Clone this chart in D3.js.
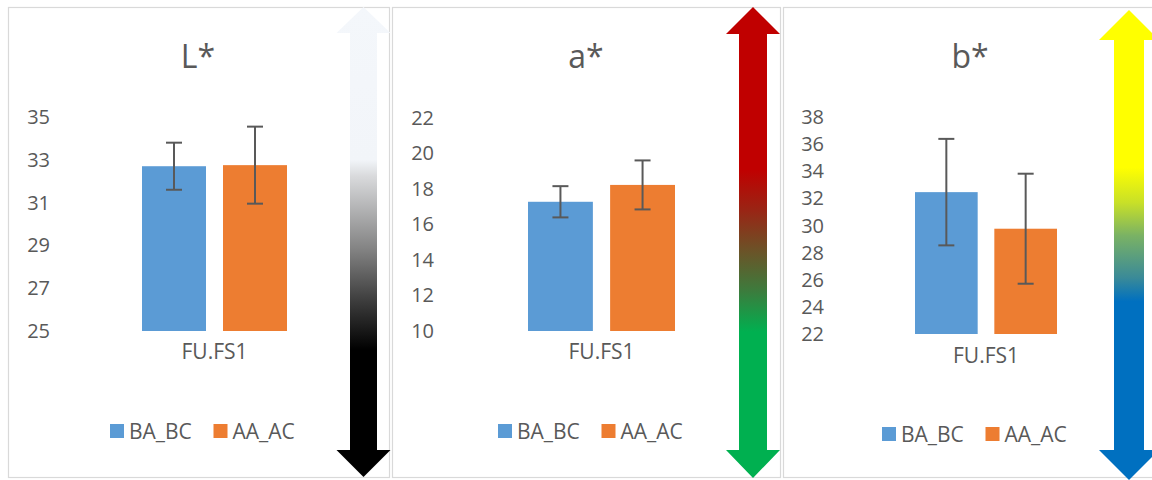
<!DOCTYPE html>
<html>
<head>
<meta charset="utf-8">
<title></title>
<style>
  body { margin: 0; background: #fff; }
  svg text { font-family: "Open Sans", sans-serif; fill: #595959; }
</style>
</head>
<body>
<script src="https://cdnjs.cloudflare.com/ajax/libs/d3/7.8.5/d3.min.js"></script>
<script>
// data
var categories = ["FU.FS1"];
var seriesNames = ["BA_BC", "AA_AC"];
var seriesColors = ["#5b9bd5", "#ed7d31"];
var titles = ["L*", "a*", "b*"];

var lMeans = [32.7, 32.75],  lErrors = [1.1, 1.8];
var aMeans = [17.28, 18.23], aErrors = [0.88, 1.38];
var bMeans = [32.47, 29.77], bErrors = [3.93, 4.06];

var lTicks = [25, 27, 29, 31, 33, 35];
var aTicks = [10, 12, 14, 16, 18, 20, 22];
var bTicks = [22, 24, 26, 28, 30, 32, 34, 36, 38];

// layout of each panel
var panels = [
  {title: titles[0], means: lMeans, errs: lErrors, ticks: lTicks,
   box: [8.5, 389.5], yRange: [331, 117], group: [142, 287], tickX: 50, titleX: 198,
   labelY: 359, legendX: 110, legendY: 424,
   arrow: {cx: 363.5, shaft: 13.5, head: 27, top: 7, topBase: 33, botBase: 450, bot: 477},
   stops: [[0, "#f4f7fb"], [0.325, "#f2f5f9"], [0.36, "#d9dadc"], [0.52, "#808080"], [0.63, "#3a3a3a"], [0.73, "#000"], [1, "#000"]]},
  {title: titles[1], means: aMeans, errs: aErrors, ticks: aTicks,
   box: [392.5, 780.5], yRange: [331, 118], group: [528, 675], tickX: 434, titleX: 586,
   labelY: 359, legendX: 498, legendY: 424,
   arrow: {cx: 753, shaft: 14, head: 27, top: 7, topBase: 34, botBase: 450, bot: 478},
   stops: [[0, "#c00000"], [0.345, "#c00000"], [0.43, "#9a2414"], [0.52, "#6a5428"], [0.6, "#3e7a3c"], [0.69, "#00b050"], [1, "#00b050"]]},
  {title: titles[2], means: bMeans, errs: bErrors, ticks: bTicks,
   box: [783.5, 1170], yRange: [334, 117.2], group: [915, 1057], tickX: 824, titleX: 970,
   labelY: 363, legendX: 882, legendY: 427,
   arrow: {cx: 1129, shaft: 15, head: 30, top: 10, topBase: 40, botBase: 450, bot: 480},
   stops: [[0, "#ffff00"], [0.335, "#ffff00"], [0.41, "#c8e028"], [0.48, "#7ab264"], [0.57, "#3a8a98"], [0.62, "#0070c0"], [1, "#0070c0"]]}
];

var svg = d3.select("body").append("svg")
  .attr("width", 1152)
  .attr("height", 480);

var defs = svg.append("defs");

panels.forEach(function(p, i) {
  var g = svg.append("g");

  // panel frame
  g.append("rect")
    .attr("x", p.box[0]).attr("y", 7.5)
    .attr("width", p.box[1] - p.box[0]).attr("height", 470)
    .attr("fill", "#fff").attr("stroke", "#d9d9d9").attr("stroke-width", 1.2);

  var y = d3.scaleLinear()
    .domain([p.ticks[0], p.ticks[p.ticks.length - 1]])
    .range(p.yRange);

  var x0 = d3.scaleBand().domain(categories).range(p.group).padding(0);
  var x1 = d3.scaleBand().domain(seriesNames)
    .range([x0(categories[0]), x0(categories[0]) + x0.bandwidth()])
    .paddingInner(0.21).paddingOuter(0);

  // y axis: labels only
  var yAxis = g.append("g")
    .attr("transform", "translate(" + p.tickX + ",0)")
    .call(d3.axisLeft(y).tickValues(p.ticks).tickSize(0).tickPadding(0));
  yAxis.select(".domain").remove();
  yAxis.selectAll("text")
    .style("font-size", "20px")
    .attr("fill", "#595959");

  // x axis label
  var xAxis = g.append("g")
    .attr("transform", "translate(0," + p.yRange[0] + ")")
    .call(d3.axisBottom(x0).tickSize(0).tickPadding(0));
  xAxis.select(".domain").remove();
  xAxis.selectAll("text")
    .style("font-size", "21px")
    .attr("fill", "#595959")
    .attr("dy", null)
    .attr("y", p.labelY - p.yRange[0]);

  var rows = seriesNames.map(function(s, j) {
    return {name: s, mean: p.means[j], err: p.errs[j], color: seriesColors[j]};
  });

  // bars
  g.selectAll(".bar").data(rows).enter().append("rect")
    .attr("class", "bar")
    .attr("x", function(d) { return x1(d.name); })
    .attr("width", x1.bandwidth())
    .attr("y", function(d) { return y(d.mean); })
    .attr("height", function(d) { return y.range()[0] - y(d.mean); })
    .attr("fill", function(d) { return d.color; });

  // error bars
  var eb = g.selectAll(".err").data(rows).enter().append("g")
    .attr("class", "err")
    .attr("stroke", "#595959").attr("stroke-width", 2);
  eb.append("line")
    .attr("x1", function(d) { return x1(d.name) + x1.bandwidth() / 2; })
    .attr("x2", function(d) { return x1(d.name) + x1.bandwidth() / 2; })
    .attr("y1", function(d) { return y(d.mean + d.err); })
    .attr("y2", function(d) { return y(d.mean - d.err); });
  [1, -1].forEach(function(sgn) {
    eb.append("line")
      .attr("x1", function(d) { return x1(d.name) + x1.bandwidth() / 2 - 8; })
      .attr("x2", function(d) { return x1(d.name) + x1.bandwidth() / 2 + 8; })
      .attr("y1", function(d) { return y(d.mean + sgn * d.err); })
      .attr("y2", function(d) { return y(d.mean + sgn * d.err); });
  });

  // title
  g.append("text")
    .attr("x", p.titleX).attr("y", 68)
    .attr("text-anchor", "middle")
    .style("font-size", "32px")
    .text(p.title);

  // legend
  var leg = g.selectAll(".leg").data(rows).enter().append("g")
    .attr("class", "leg")
    .attr("transform", function(d, j) { return "translate(" + (p.legendX + j * 103.5) + "," + p.legendY + ")"; });
  leg.append("rect").attr("width", 14).attr("height", 14)
    .attr("fill", function(d) { return d.color; });
  leg.append("text").attr("x", 19).attr("y", 15)
    .style("font-size", "21px")
    .text(function(d) { return d.name; });

  // gradient arrow
  var a = p.arrow;
  var grad = defs.append("linearGradient")
    .attr("id", "grad" + i)
    .attr("gradientUnits", "userSpaceOnUse")
    .attr("x1", 0).attr("x2", 0).attr("y1", a.top).attr("y2", a.bot);
  grad.selectAll("stop").data(p.stops).enter().append("stop")
    .attr("offset", function(d) { return d[0]; })
    .attr("stop-color", function(d) { return d[1]; });

  var pts = [
    [a.cx, a.top], [a.cx + a.head, a.topBase], [a.cx + a.shaft, a.topBase],
    [a.cx + a.shaft, a.botBase], [a.cx + a.head, a.botBase], [a.cx, a.bot],
    [a.cx - a.head, a.botBase], [a.cx - a.shaft, a.botBase], [a.cx - a.shaft, a.topBase],
    [a.cx - a.head, a.topBase]
  ];
  g.append("path")
    .attr("d", d3.line()(pts) + "Z")
    .attr("fill", "url(#grad" + i + ")");
});
</script>
</body>
</html>
